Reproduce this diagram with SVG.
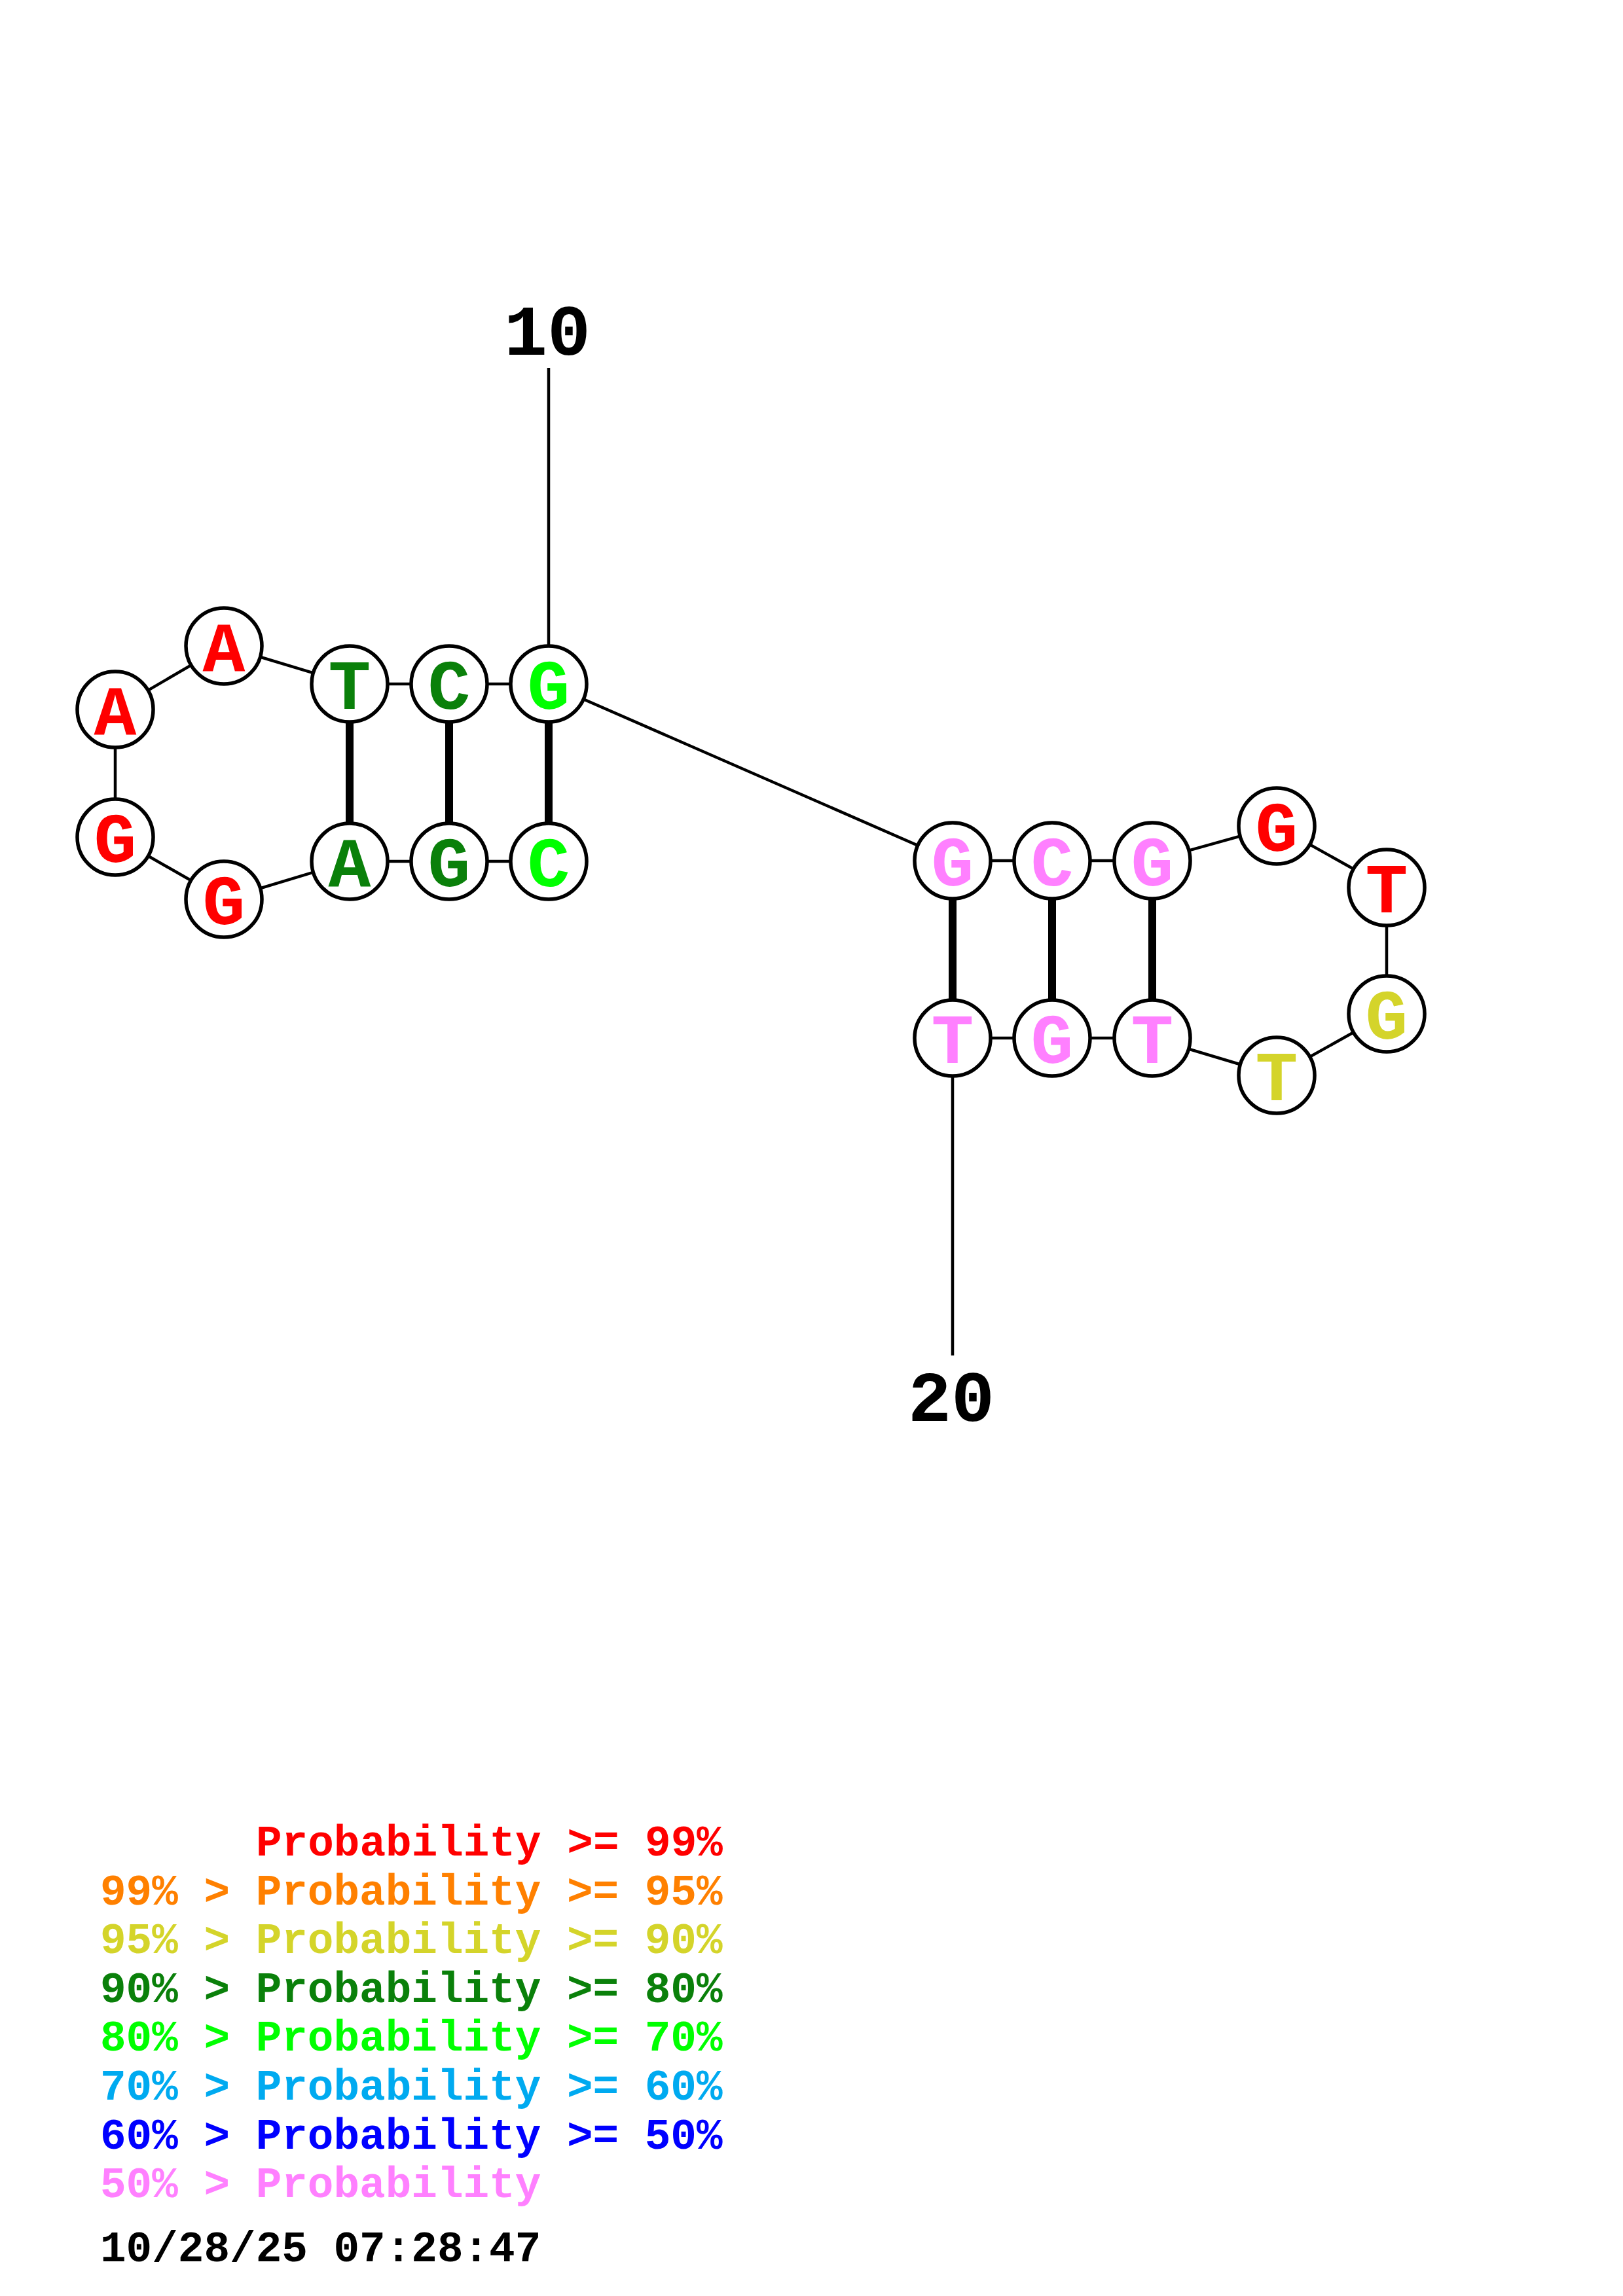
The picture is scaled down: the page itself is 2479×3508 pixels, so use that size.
<svg xmlns="http://www.w3.org/2000/svg" width="2479" height="3508" viewBox="0 0 2479 3508">
<style>
.bb{stroke:#000;stroke-width:4.5;fill:none}
.bp{stroke:#000;stroke-width:12;fill:none}
.nc{fill:#fff;stroke:#000;stroke-width:5.5}
.nt{font-family:"Liberation Mono","DejaVu Sans Mono",monospace;font-weight:bold;font-size:108px;text-anchor:middle}
.lbl{font-family:"Liberation Mono","DejaVu Sans Mono",monospace;font-weight:bold;font-size:110px;text-anchor:middle;fill:#000}
.lg{font-family:"Liberation Mono","DejaVu Sans Mono",monospace;font-weight:bold;font-size:66px}
.red{fill:#FF0000}.org{fill:#FF8000}.yel{fill:#D4D42A}.dgr{fill:#0A800A}.grn{fill:#00FF00}.lbl2{fill:#00AAF0}.blu{fill:#0000FF}.pnk{fill:#FF80FF}
</style>
<rect width="2479" height="3508" fill="#fff"/>
<g id="connectors">
<line class="bb" x1="838" y1="562" x2="838" y2="1045"/>
<line class="bb" x1="1455" y1="1586" x2="1455" y2="2071"/>
<polyline class="bb" points="534,1045 686,1045 838,1045"/>
<polyline class="bb" points="534,1316 686,1316 838,1316"/>
<polyline class="bb" points="534,1045 342,987 176,1084 176,1279 342,1374 534,1316"/>
<line class="bb" x1="838" y1="1045" x2="1455" y2="1315"/>
<polyline class="bb" points="1455,1315 1607,1315 1760,1315"/>
<polyline class="bb" points="1455,1586 1607,1586 1760,1586"/>
<polyline class="bb" points="1760,1315 1950,1262 2118,1356 2118,1549 1950,1643 1760,1586"/>
<line class="bp" x1="534" y1="1045" x2="534" y2="1316"/>
<line class="bp" x1="686" y1="1045" x2="686" y2="1316"/>
<line class="bp" x1="838" y1="1045" x2="838" y2="1316"/>
<line class="bp" x1="1455" y1="1315" x2="1455" y2="1586"/>
<line class="bp" x1="1607" y1="1315" x2="1607" y2="1586"/>
<line class="bp" x1="1760" y1="1315" x2="1760" y2="1586"/>
</g>
<g id="n1"><circle class="nc" cx="534" cy="1045" r="58"/><text class="nt dgr" x="534" y="1083">T</text></g>
<g id="n2"><circle class="nc" cx="686" cy="1045" r="58"/><text class="nt dgr" x="686" y="1083">C</text></g>
<g id="n3"><circle class="nc" cx="838" cy="1045" r="58"/><text class="nt grn" x="838" y="1083">G</text></g>
<g id="n4"><circle class="nc" cx="534" cy="1316" r="58"/><text class="nt dgr" x="534" y="1354">A</text></g>
<g id="n5"><circle class="nc" cx="686" cy="1316" r="58"/><text class="nt dgr" x="686" y="1354">G</text></g>
<g id="n6"><circle class="nc" cx="838" cy="1316" r="58"/><text class="nt grn" x="838" y="1354">C</text></g>
<g id="n7"><circle class="nc" cx="342" cy="987" r="58"/><text class="nt red" x="342" y="1025">A</text></g>
<g id="n8"><circle class="nc" cx="176" cy="1084" r="58"/><text class="nt red" x="176" y="1122">A</text></g>
<g id="n9"><circle class="nc" cx="176" cy="1279" r="58"/><text class="nt red" x="176" y="1317">G</text></g>
<g id="n10"><circle class="nc" cx="342" cy="1374" r="58"/><text class="nt red" x="342" y="1412">G</text></g>
<g id="n11"><circle class="nc" cx="1455" cy="1315" r="58"/><text class="nt pnk" x="1455" y="1353">G</text></g>
<g id="n12"><circle class="nc" cx="1607" cy="1315" r="58"/><text class="nt pnk" x="1607" y="1353">C</text></g>
<g id="n13"><circle class="nc" cx="1760" cy="1315" r="58"/><text class="nt pnk" x="1760" y="1353">G</text></g>
<g id="n14"><circle class="nc" cx="1455" cy="1586" r="58"/><text class="nt pnk" x="1455" y="1624">T</text></g>
<g id="n15"><circle class="nc" cx="1607" cy="1586" r="58"/><text class="nt pnk" x="1607" y="1624">G</text></g>
<g id="n16"><circle class="nc" cx="1760" cy="1586" r="58"/><text class="nt pnk" x="1760" y="1624">T</text></g>
<g id="n17"><circle class="nc" cx="1950" cy="1262" r="58"/><text class="nt red" x="1950" y="1300">G</text></g>
<g id="n18"><circle class="nc" cx="2118" cy="1356" r="58"/><text class="nt red" x="2118" y="1394">T</text></g>
<g id="n19"><circle class="nc" cx="2118" cy="1549" r="58"/><text class="nt yel" x="2118" y="1587">G</text></g>
<g id="n20"><circle class="nc" cx="1950" cy="1643" r="58"/><text class="nt yel" x="1950" y="1681">T</text></g>
<g id="labels">
<text class="lbl" x="836" y="542">10</text>
<text class="lbl" x="1453" y="2171">20</text>
</g>
<g id="legend">
<text class="lg red" x="391" y="2835">Probability &gt;= 99%</text>
<text class="lg org" x="153" y="2910">99% &gt; Probability &gt;= 95%</text>
<text class="lg yel" x="153" y="2984">95% &gt; Probability &gt;= 90%</text>
<text class="lg dgr" x="153" y="3059">90% &gt; Probability &gt;= 80%</text>
<text class="lg grn" x="153" y="3133">80% &gt; Probability &gt;= 70%</text>
<text class="lg lbl2" x="153" y="3208">70% &gt; Probability &gt;= 60%</text>
<text class="lg blu" x="153" y="3283">60% &gt; Probability &gt;= 50%</text>
<text class="lg pnk" x="153" y="3357">50% &gt; Probability</text>
<text class="lg" x="153" y="3455" fill="#000">10/28/25 07:28:47</text>
</g>
</svg>
